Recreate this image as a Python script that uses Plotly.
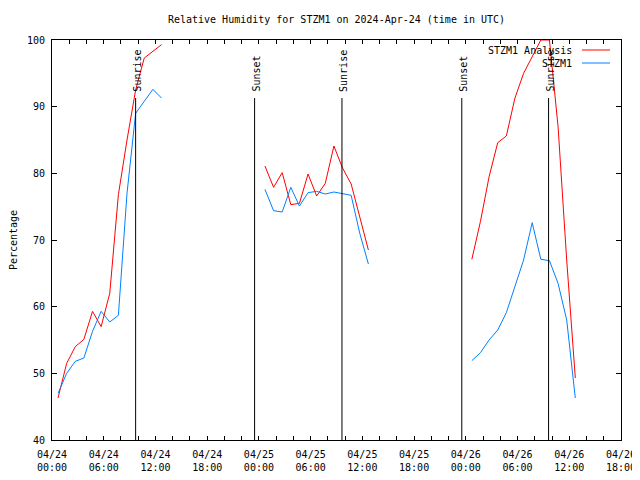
import plotly.graph_objects as go

# ---- data ----
obs_days = ["2024-04-24", "2024-04-25", "2024-04-26"]
obs_clock = ["00:42", "01:42", "02:42", "03:42", "04:42", "05:42", "06:42",
             "07:42", "08:42", "09:42", "10:42", "11:42", "12:42"]

analysis_rh = [
    [46.3, 51.5, 54.0, 55.1, 59.3, 57.0, 62.0, 76.8, 85.0, 92.5, 97.3, 98.3, 99.3],
    [81.1, 77.9, 80.1, 75.3, 75.5, 79.9, 76.6, 78.5, 84.1, 80.8, 78.4, 73.5, 68.5],
    [67.1, 72.8, 79.5, 84.6, 85.6, 91.3, 95.0, 97.5, 100.0, 100.0, 87.0, 67.0, 49.3],
]
station_rh = [
    [47.0, 50.0, 51.8, 52.3, 56.3, 59.3, 57.7, 58.7, 77.0, 89.0, 90.8, 92.6, 91.3],
    [77.6, 74.4, 74.2, 77.9, 75.1, 77.1, 77.3, 76.9, 77.2, 77.0, 76.7, 71.0, 66.4],
    [51.9, 53.1, 55.0, 56.5, 59.1, 63.0, 67.0, 72.6, 67.1, 66.9, 63.5, 58.0, 46.3],
]

sun_times = ["2024-04-24 09:42", "2024-04-24 23:30", "2024-04-25 09:38",
             "2024-04-25 23:32", "2024-04-26 09:36"]
sun_labels = ["Sunrise", "Sunset", "Sunrise", "Sunset", "Sunrise"]
sun_line_top = 91.3
sun_label_base = 92.2

tick_times = ["2024-04-24 00:00", "2024-04-24 06:00", "2024-04-24 12:00", "2024-04-24 18:00",
              "2024-04-25 00:00", "2024-04-25 06:00", "2024-04-25 12:00", "2024-04-25 18:00",
              "2024-04-26 00:00", "2024-04-26 06:00", "2024-04-26 12:00", "2024-04-26 18:00"]
tick_labels = ["04/24<br>00:00", "04/24<br>06:00", "04/24<br>12:00", "04/24<br>18:00",
               "04/25<br>00:00", "04/25<br>06:00", "04/25<br>12:00", "04/25<br>18:00",
               "04/26<br>00:00", "04/26<br>06:00", "04/26<br>12:00", "04/26<br>18:00"]

series_names = ["STZM1 Analysis", "STZM1"]
series_colors = ["#ff0000", "#0080ff"]

# ---- build x/y with gaps between days ----
def build(values):
    xs, ys = [], []
    for d, vals in zip(obs_days, values):
        for c, v in zip(obs_clock, vals):
            xs.append(f"{d} {c}")
            ys.append(v)
        xs.append(f"{d} 18:00")
        ys.append(None)
    return xs, ys

FONT = "DejaVu Sans Mono"
fig = go.Figure()
for name, vals, col in zip(series_names, [analysis_rh, station_rh], series_colors):
    xs, ys = build(vals)
    fig.add_trace(go.Scatter(x=xs, y=ys, mode="lines", name=name,
                             line=dict(color=col, width=1), connectgaps=False,
                             showlegend=False))

shapes = []
annotations = []
for t, lab in zip(sun_times, sun_labels):
    shapes.append(dict(type="line", xref="x", yref="y", x0=t, x1=t, y0=40, y1=sun_line_top,
                       line=dict(color="black", width=1)))
    annotations.append(dict(x=t, y=sun_label_base, xref="x", yref="y", text=lab,
                            textangle=-90, showarrow=False, xanchor="center",
                            yanchor="bottom", xshift=1, yshift=-2,
                            font=dict(family=FONT, size=10, color="black")))

# manual gnuplot-style legend (text left, sample right)
leg_y = [0.975, 0.9425]
for name, col, yy in zip(series_names, series_colors, leg_y):
    annotations.append(dict(x=0.9174, y=yy, xref="paper", yref="paper", text=name,
                            showarrow=False, xanchor="right", yanchor="middle",
                            font=dict(family=FONT, size=10, color="black")))
    shapes.append(dict(type="line", xref="paper", yref="paper", x0=0.9315, x1=0.9807,
                       y0=yy, y1=yy, line=dict(color=col, width=1)))

# page body has an 8px margin: size the figure so the plot box lands at 52..621 x 40..440
fig.update_layout(
    width=632, height=472,
    margin=dict(l=44, r=19, t=32, b=40, autoexpand=False),
    paper_bgcolor="white", plot_bgcolor="white",
    font=dict(family=FONT, size=10, color="black"),
    title=dict(text="Relative Humidity for STZM1 on 2024-Apr-24 (time in UTC)",
               x=0.5, xref="paper", xanchor="center", y=1 - 11 / 472, yanchor="middle",
               font=dict(family=FONT, size=10, color="black")),
    shapes=shapes, annotations=annotations, showlegend=False,
)
fig.update_xaxes(
    type="date", range=["2024-04-24 00:00", "2024-04-26 18:00"],
    tickmode="array", tickvals=tick_times, ticktext=tick_labels,
    ticks="inside", ticklen=4, tickcolor="black", tickwidth=1, ticklabelstandoff=5,
    minor=dict(ticks="inside", dtick=2 * 3600 * 1000, ticklen=4, tickcolor="black"),
    showline=True, linecolor="black", linewidth=1, mirror="ticks",
    showgrid=False, zeroline=False, automargin=False,
)
fig.update_yaxes(
    range=[40, 100], tickmode="array", tickvals=[40, 50, 60, 70, 80, 90, 100],
    ticks="inside", ticklen=5, tickcolor="black", tickwidth=1, ticklabelstandoff=4,
    showline=True, linecolor="black", linewidth=1, mirror="ticks",
    showgrid=False, zeroline=False, automargin=False,
    title=dict(text="Percentage", standoff=11, font=dict(family=FONT, size=10)),
)

fig.write_html("out.html")
